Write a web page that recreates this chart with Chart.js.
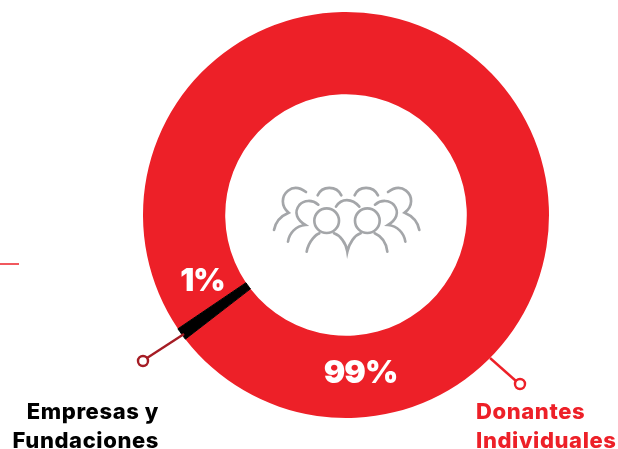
<!DOCTYPE html>
<html lang="es">
<head>
<meta charset="utf-8">
<title>Donantes</title>
<script src="https://cdn.jsdelivr.net/npm/chart.js@4"></script>
<style>
  html, body { margin: 0; padding: 0; background: #fff; overflow: hidden; }
  canvas { display: block; }
</style>
</head>
<body>
<canvas id="chart" width="618" height="449"></canvas>
<script>
const categories = ["Donantes Individuales", "Empresas y Fundaciones"];
const shares = [99, 1];
const sliceColors = ["#ed2028", "#000000"];

const RED = "#ed2028";
const DARK_RED = "#a51c24";
const FONT = "Inter, 'Liberation Sans', sans-serif";

// Two-line category captions, right- or left-aligned at their anchor.
const captions = [
  { lines: ["Empresas y", "Fundaciones"], x: 159, y: [419, 448], align: "right", color: "#000000" },
  { lines: ["Donantes", "Individuales"], x: 476, y: [419, 448], align: "left", color: RED }
];

// Leader lines ending in a small ring.
const leaders = [
  { from: [184, 334], to: [147, 358], ring: [143, 361], color: DARK_RED },
  { from: [490, 358], to: [516, 381], ring: [520, 384], color: RED }
];

// Value labels inside the ring, same order as the shares.
const valueLabelPos = [[360.5, 373], [202.5, 282]];
const valueLabelSize = [32, 31];

// Outline icon of a crowd; path units are three per pixel.
const crowdOrigin = [260, 170];
const crowdPaths = [
  "M163 152 a37 37 0 1 0 74 0 a37 37 0 1 0 -74 0",
  "M285 152 a37 37 0 1 0 74 0 a37 37 0 1 0 -74 0",
  "M140 245 C146 212 170 192 178 190 M222 190 C240 196 258 218 262 245 C268 218 284 196 302 190 M344 190 C358 196 378 212 382 245",
  "M84 215 C88 188 108 168 136 165 C112 150 100 128 118 105 C132 90 156 88 175 104",
  "M228 110 C244 84 276 84 298 110",
  "M345 104 C364 88 388 90 402 105 C420 128 408 150 384 165 C412 168 432 188 436 215",
  "M42 180 C46 158 62 138 86 128 C62 108 64 78 84 62 C102 48 122 54 138 66",
  "M173 76 C186 46 230 46 244 76",
  "M284 76 C296 46 340 46 354 76",
  "M384 66 C400 54 420 48 438 62 C458 78 460 108 434 128 C458 138 474 158 478 180"
];

const overlayPlugin = {
  id: "overlay",
  afterDraw(chart) {
    const ctx = chart.ctx;
    ctx.save();

    // accent rule at the left edge
    ctx.strokeStyle = RED;
    ctx.lineWidth = 1.5;
    ctx.beginPath();
    ctx.moveTo(0, 264);
    ctx.lineTo(19, 264);
    ctx.stroke();

    // leaders
    leaders.forEach(l => {
      ctx.strokeStyle = l.color;
      ctx.lineWidth = 2.4;
      ctx.beginPath();
      ctx.moveTo(l.from[0], l.from[1]);
      ctx.lineTo(l.to[0], l.to[1]);
      ctx.stroke();
      ctx.beginPath();
      ctx.arc(l.ring[0], l.ring[1], 5, 0, Math.PI * 2);
      ctx.stroke();
    });

    // crowd icon
    ctx.save();
    ctx.translate(crowdOrigin[0], crowdOrigin[1]);
    ctx.scale(1 / 3, 1 / 3);
    ctx.strokeStyle = "#a4a6a9";
    ctx.lineWidth = 8;
    ctx.lineCap = "round";
    crowdPaths.forEach(d => ctx.stroke(new Path2D(d)));
    ctx.restore();

    // value labels
    ctx.fillStyle = "#ffffff";
    ctx.textAlign = "center";
    ctx.textBaseline = "middle";
    ctx.letterSpacing = "-1px";
    shares.forEach((v, i) => {
      ctx.font = "900 " + valueLabelSize[i] + "px " + FONT;
      ctx.fillText(v + "%", valueLabelPos[i][0], valueLabelPos[i][1]);
    });

    // captions
    ctx.textBaseline = "alphabetic";
    ctx.font = "800 22px " + FONT;
    ctx.letterSpacing = "0.6px";
    captions.forEach(c => {
      ctx.fillStyle = c.color;
      ctx.textAlign = c.align;
      c.lines.forEach((line, i) => ctx.fillText(line, c.x, c.y[i]));
    });
    ctx.restore();
  }
};

new Chart(document.getElementById("chart"), {
  type: "doughnut",
  data: {
    labels: categories,
    datasets: [{
      data: shares,
      backgroundColor: sliceColors,
      borderColor: sliceColors,
      borderWidth: [0, 1],
      borderAlign: "center",
      hoverOffset: 0
    }]
  },
  options: {
    responsive: false,
    animation: false,
    rotation: 235.9,
    cutout: "59.5%",
    layout: { padding: { left: 142.5, right: 68.5, top: 11.5, bottom: 30.5 } },
    plugins: { legend: { display: false }, tooltip: { enabled: false } }
  },
  plugins: [overlayPlugin]
});
</script>
</body>
</html>
